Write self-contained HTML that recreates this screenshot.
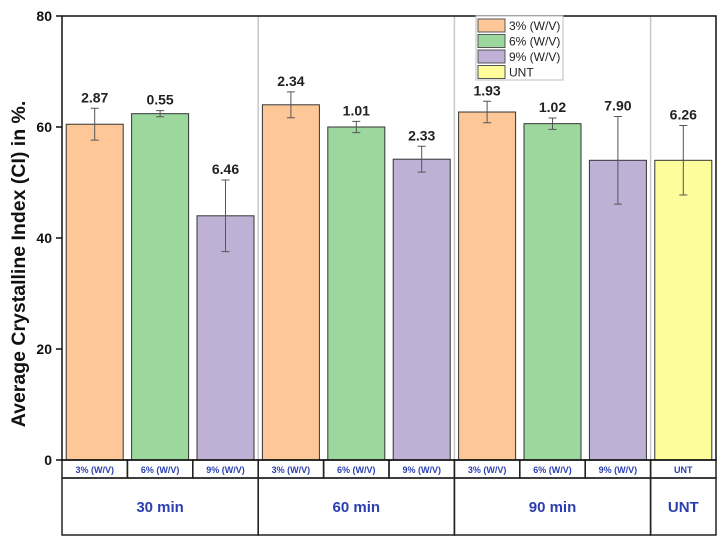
<!DOCTYPE html>
<html><head><meta charset="utf-8"><style>
body{margin:0;background:#fff;font-family:"Liberation Sans",sans-serif}
</style></head><body>
<svg id="c" width="724" height="539" xmlns="http://www.w3.org/2000/svg"></svg>
<script>
const categories=["3% (W/V)","6% (W/V)","9% (W/V)","3% (W/V)","6% (W/V)","9% (W/V)","3% (W/V)","6% (W/V)","9% (W/V)","UNT"];
const groups=["30 min","60 min","90 min","UNT"];
const groupSizes=[3,3,3,1];
const values=[60.5,62.4,44.0,64.0,60.0,54.2,62.7,60.6,54.0,54.0];
const errors=[2.87,0.55,6.46,2.34,1.01,2.33,1.93,1.02,7.90,6.26];
const errLabels=["2.87","0.55","6.46","2.34","1.01","2.33","1.93","1.02","7.90","6.26"];
const series=[0,1,2,0,1,2,0,1,2,3];
const legendLabels=["3% (W/V)","6% (W/V)","9% (W/V)","UNT"];
const yTicks=[0,20,40,60,80];
const colors=["#fdc798","#9cd89d","#bfb1d6","#fdfd9c"];
const svg=document.getElementById('c');
const NS="http://www.w3.org/2000/svg";
const L=62,R=716,T=16,B=460;
const n=categories.length,slot=(R-L)/n,bw=57;
const y=v=>B-(v-0)/(80-0)*(B-T);
const x=i=>L+slot*(i+0.5);
function mk(t,a,txt){const e=document.createElementNS(NS,t);for(const k in a)e.setAttribute(k,a[k]);if(txt!==undefined)e.textContent=txt;svg.appendChild(e);return e;}
let acc=0;
groupSizes.forEach((s,g)=>{const x0=L+acc*slot;acc+=s;const x1=L+acc*slot;
 if(g<groups.length-1){const d=mk('line',{x1:x1,x2:x1,y1:T,y2:B,stroke:'#c8c8c8','stroke-width':1.5});}
 const r=mk('rect',{x:x0,y:478,width:x1-x0,height:57,fill:'none',stroke:'#222','stroke-width':1.5});
 const t=mk('text',{x:(x0+x1)/2,y:512,'text-anchor':'middle','font-size':15,'font-weight':'bold',fill:'#2b3fb0'},groups[g]);
});
for(let i=0;i<n;i++){
 const b=mk('rect',{x:x(i)-bw/2,y:y(values[i]),width:bw,height:B-y(values[i]),fill:colors[series[i]],stroke:'#333','stroke-width':1});
 
 const hi=y(values[i]+errors[i]),lo=y(values[i]-errors[i]);
 const e=mk('path',{d:`M${x(i)},${hi}V${lo}M${x(i)-4},${hi}H${x(i)+4}M${x(i)-4},${lo}H${x(i)+4}`,stroke:'#555','stroke-width':1,fill:'none'});
 
 const t=mk('text',{x:x(i),y:hi-6,'text-anchor':'middle','font-size':14,'font-weight':'bold',fill:'#222'},errLabels[i]);
 
 const c=mk('rect',{x:L+slot*i,y:B,width:slot,height:18,fill:'none',stroke:'#222','stroke-width':1.5});
 
 const ct=mk('text',{x:x(i),y:473,'text-anchor':'middle','font-size':9,'font-weight':'bold',fill:'#2b3fb0'},categories[i]);
 
}
const f=mk('rect',{x:L,y:T,width:R-L,height:B-T,fill:'none',stroke:'#111','stroke-width':1.5});

yTicks.forEach(v=>{const tk=mk('line',{x1:L-6,x2:L,y1:y(v),y2:y(v),stroke:'#111','stroke-width':1.5});
 const t=mk('text',{x:L-10,y:y(v)+5,'text-anchor':'end','font-size':14,'font-weight':'bold',fill:'#111'},String(v));});
const yt=mk('text',{transform:'translate(25,264) rotate(-90)','text-anchor':'middle','font-size':19.5,'font-weight':'bold',fill:'#111'},'Average Crystalline Index (CI) in %.');

const lg=mk('rect',{x:476,y:16,width:87,height:64,fill:'#fff',stroke:'#bbb','stroke-width':1});

legendLabels.forEach((s,k)=>{const r=mk('rect',{x:478,y:19+k*15.5,width:27,height:13,fill:colors[k],stroke:'#555','stroke-width':1});
 const t=mk('text',{x:509,y:30+k*15.5,'font-size':12,fill:'#222'},s);});
</script>
</body></html>
